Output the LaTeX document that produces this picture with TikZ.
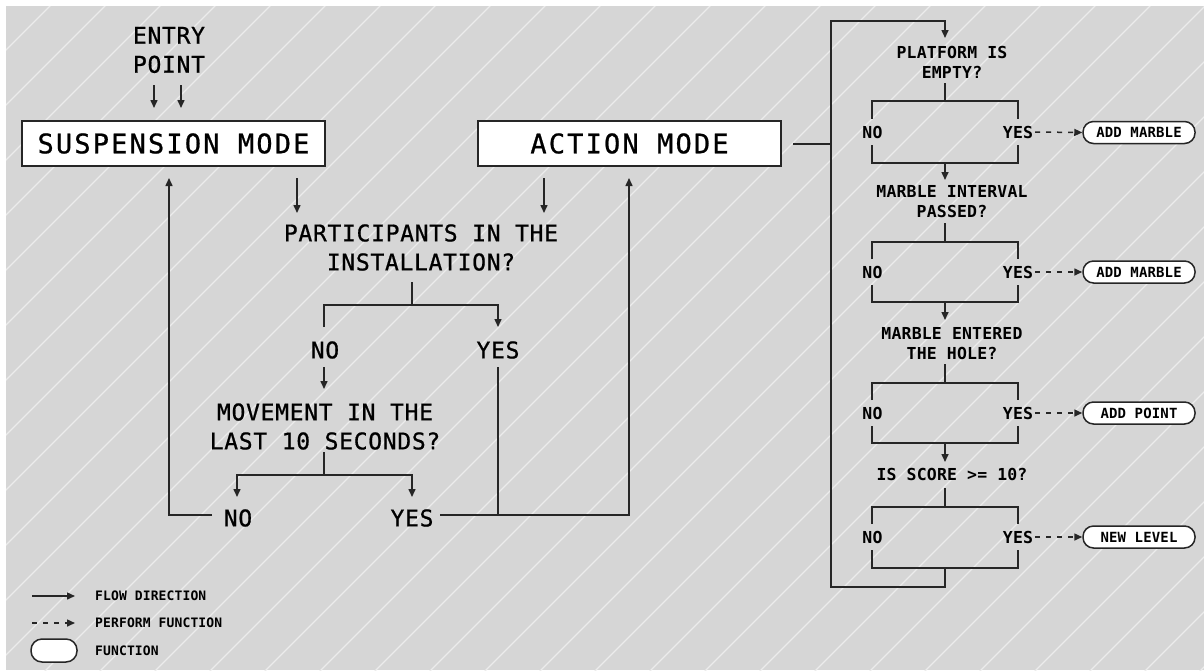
\documentclass[tikz,border=0pt]{standalone}
\usepackage{fontspec}
\usetikzlibrary{arrows.meta}
\newfontfamily\ffBox{DejaVu Sans Mono}[LetterSpace=8,FakeBold=0.8]
\newfontfamily\ffMain{DejaVu Sans Mono}[LetterSpace=3,FakeBold=0.8]
\newfontfamily\ffRt{DejaVu Sans Mono}[LetterSpace=1]
\definecolor{bg}{RGB}{214,214,214}
\definecolor{stripe}{RGB}{236,236,236}
\definecolor{ink}{RGB}{38,38,38}
\tikzset{
  tip/.tip={Triangle[length=8pt,width=7pt]},
  conn/.style={draw=ink, line width=1.5pt},
  arr/.style={conn, -tip},
  darr/.style={conn, dash pattern=on 5pt off 6pt, -tip},
  modebox/.style={draw=ink, line width=1.5pt, fill=white, minimum width=303pt, minimum height=45pt, inner sep=0pt, font=\ffBox\fontsize{27}{30}\selectfont},
  qtext/.style={align=center, inner sep=0pt, text=black, font=\ffMain\fontsize{23}{29}\selectfont},
  rtext/.style={align=center, inner sep=0pt, text=black, font=\ffRt\bfseries\fontsize{16.5}{20}\selectfont},
  funcbox/.style={draw=ink, line width=1.5pt, fill=white, rounded corners=10.5pt, minimum width=112pt, minimum height=22pt, inner sep=0pt, text=black, font=\ffRt\bfseries\fontsize{14}{16}\selectfont},
  legtext/.style={anchor=west, inner sep=0pt, text=black, font=\ffRt\bfseries\fontsize{13}{15}\selectfont},
}
\begin{document}
\begin{tikzpicture}[x=1pt,y=-1pt]
% background
\useasboundingbox (0,0) rectangle (1204,670);
\fill[white] (0,0) rectangle (1204,670);
\fill[bg] (6,6) rectangle (1204,670);
\begin{scope}
  \clip (6,6) rectangle (1204,670);
  \foreach \k in {0,...,34} {
    \draw[stripe, line width=1.2pt] ({55*\k+1},0) -- ({55*\k+1-700},700);
  }
\end{scope}

% ---------- left part ----------
\node[qtext] (entry) at (169,50) {ENTRY\\POINT};
\node[modebox] (susp) at (173.5,143.5) {SUSPENSION MODE};
\node[modebox] (act) at (629.5,143.5) {ACTION MODE};
\node[qtext] (part) at (421,247.5) {PARTICIPANTS IN THE\\INSTALLATION?};
\node[qtext] (pno) at (325,350) {NO};
\node[qtext] (pyes) at (498,350) {YES};
\node[qtext] (move) at (325,426.5) {MOVEMENT IN THE\\LAST 10 SECONDS?};
\node[qtext] (mno) at (238,518) {NO};
\node[qtext] (myes) at (412,518) {YES};

\coordinate (e1a) at (154,85);  \coordinate (e1b) at (154,108);
\coordinate (e2a) at (181,85);  \coordinate (e2b) at (181,108);
\draw[arr] (e1a) -- (e1b);
\draw[arr] (e2a) -- (e2b);

\coordinate (suspout) at (297,178); \coordinate (partin1) at (297,213);
\coordinate (actout) at (544,178);  \coordinate (partin2) at (544,213);
\draw[arr] (suspout) -- (partin1);
\draw[arr] (actout) -- (partin2);

\coordinate (pstem) at (412,282); \coordinate (pfork) at (412,305);
\draw[conn] (pstem) -- (pfork);
\draw[arr] (324,327) -- (324,305) -- (pfork) -- (498,305) -- (498,327);
\draw[arr] (324,367) -- (324,389);

\coordinate (mstem) at (324,452); \coordinate (mfork) at (324,475);
\draw[conn] (mstem) -- (mfork);
\draw[conn, tip-tip] (237,497) -- (237,475) -- (mfork) -- (412,475) -- (412,497);

\coordinate (suspin) at (169,178);
\coordinate (actin) at (629,178);
\draw[arr] (212,515) -- (169,515) -- (suspin);
\draw[arr] (440,515) -- (629,515) -- (actin);
\draw[conn] (498,367) -- (498,515);

% ---------- right column ----------
\coordinate (actright) at (793,144);
\coordinate (loopjoin) at (831,144);
\draw[conn] (actright) -- (loopjoin);
\draw[arr] (945,568) -- (945,587) -- (831,587) -- (831,21) -- (945,21) -- (945,38);

% question 1
\node[rtext] (q1) at (952,62.5) {PLATFORM IS\\EMPTY?};
\node[rtext] (n1) at (872.5,132) {NO};
\node[rtext] (y1) at (1018,132) {YES};
\node[funcbox] (f1) at (1139,132.5) {ADD MARBLE};
\draw[conn] (945,83) -- (945,101);
\draw[conn] (872,119) -- (872,101) -- (1018,101) -- (1018,119);
\draw[conn] (872,145) -- (872,163) -- (1018,163) -- (1018,145);
\draw[darr] (1035,132) -- (f1.west);
\draw[arr] (945,163) -- (945,180);

% question 2
\node[rtext] (q2) at (952,201.5) {MARBLE INTERVAL\\PASSED?};
\node[rtext] (n2) at (872.5,272) {NO};
\node[rtext] (y2) at (1018,272) {YES};
\node[funcbox] (f2) at (1139,272) {ADD MARBLE};
\draw[conn] (945,223) -- (945,242);
\draw[conn] (872,259) -- (872,242) -- (1018,242) -- (1018,259);
\draw[conn] (872,285) -- (872,302) -- (1018,302) -- (1018,285);
\draw[darr] (1035,272) -- (f2.west);
\draw[arr] (945,302) -- (945,320);

% question 3
\node[rtext] (q3) at (952,343.5) {MARBLE ENTERED\\THE HOLE?};
\node[rtext] (n3) at (872.5,413) {NO};
\node[rtext] (y3) at (1018,413) {YES};
\node[funcbox] (f3) at (1139,413) {ADD POINT};
\draw[conn] (945,364) -- (945,383);
\draw[conn] (872,400) -- (872,383) -- (1018,383) -- (1018,400);
\draw[conn] (872,426) -- (872,443) -- (1018,443) -- (1018,426);
\draw[darr] (1035,413) -- (f3.west);
\draw[arr] (945,443) -- (945,462);

% question 4
\node[rtext] (q4) at (952,474) {IS SCORE >= 10?};
\node[rtext] (n4) at (872.5,537) {NO};
\node[rtext] (y4) at (1018,537) {YES};
\node[funcbox] (f4) at (1139,537) {NEW LEVEL};
\draw[conn] (945,488) -- (945,507);
\draw[conn] (872,524) -- (872,507) -- (1018,507) -- (1018,524);
\draw[conn] (872,550) -- (872,568) -- (1018,568) -- (1018,550);
\draw[darr] (1035,537) -- (f4.west);

% ---------- legend ----------
\coordinate (l1a) at (32,596); \coordinate (l1b) at (75,596);
\coordinate (l2a) at (32,623); \coordinate (l2b) at (75,623);
\draw[arr] (l1a) -- (l1b);
\draw[darr] (l2a) -- (l2b);
\node[funcbox, minimum width=46pt, minimum height=23pt, rounded corners=11pt] (lf) at (54,650.5) {};
\node[legtext] (lt1) at (95,596) {FLOW DIRECTION};
\node[legtext] (lt2) at (95,623) {PERFORM FUNCTION};
\node[legtext] (lt3) at (95,651) {FUNCTION};
\end{tikzpicture}
\end{document}
